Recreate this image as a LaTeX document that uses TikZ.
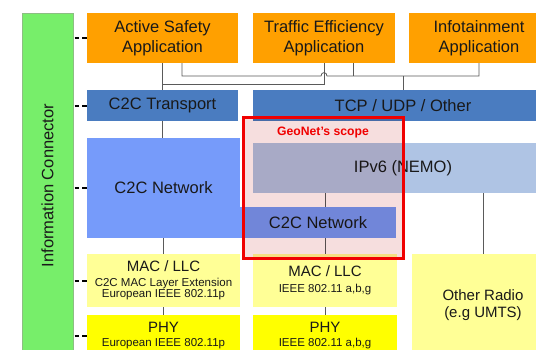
\documentclass[tikz,border=0pt]{standalone}
\usepackage{fontspec}
\setmainfont{Liberation Sans}
\usetikzlibrary{calc}
\definecolor{orangebox}{RGB}{255,160,0}
\definecolor{greenbar}{RGB}{119,238,106}
\definecolor{greenedge}{RGB}{140,190,130}
\definecolor{steel}{RGB}{74,124,192}
\definecolor{netblue}{RGB}{118,155,250}
\definecolor{ipblue}{RGB}{175,196,228}
\definecolor{lightyel}{RGB}{255,255,150}
\definecolor{brightyel}{RGB}{255,255,0}
\definecolor{scopepink}{RGB}{246,222,222}
\definecolor{scopered}{RGB}{240,0,0}
\definecolor{linegray}{RGB}{90,90,90}
\definecolor{txt}{RGB}{25,25,25}
\begin{document}
\begin{tikzpicture}[x=1pt,y=-1pt,
  box/.style={rectangle, inner sep=0pt, outer sep=0pt, align=center, text=txt, font=\fontsize{16.5}{20}\selectfont},
  subfont/.style={font=\fontsize{11.5}{11}\selectfont},
  conn/.style={draw=linegray, line width=0.8pt},
  dashconn/.style={draw=black, line width=2pt, dash pattern=on 4.5pt off 3pt},
]
\useasboundingbox (0,0) rectangle (536,349);
\clip (0,0) rectangle (536,349);
\fill[white] (0,0) rectangle (536,349);

% information connector
\node[box, rotate=90, fill=greenbar, draw=greenedge, line width=0.6pt, minimum width=345pt, minimum height=51pt] (ic) at (47.5,185.5) {Information Connector};

% application layer
\node[box, fill=orangebox, minimum width=151pt, minimum height=50pt] (as) at (162.5,38) {Active Safety\\Application};
\node[box, fill=orangebox, minimum width=142pt, minimum height=50pt] (te) at (324,38) {Traffic Efficiency\\Application};
\node[box, fill=orangebox, minimum width=140pt, minimum height=50pt] (info) at (479,38) {Infotainment\\Application};

% transport
\node[box, fill=steel, minimum width=151pt, minimum height=31pt] (ct) at (162.5,105.5) {C2C Transport};
\node[box, fill=steel, minimum width=300pt, minimum height=31pt] (tcp) at (403,105.5) {TCP / UDP / Other};

% network
\node[box, fill=netblue, minimum width=153pt, minimum height=100pt] (cn) at (163.5,188) {C2C Network};
\node[box, fill=ipblue, minimum width=300pt, minimum height=50pt] (ipv6) at (403,168) {IPv6 (NEMO)};
\node[box, fill=netblue, minimum width=156pt, minimum height=31pt] (cn2) at (318,222.5) {C2C Network};

% lower layers
\node[box, subfont, fill=lightyel, minimum width=153pt, minimum height=53pt] (mac1) at (163.5,280.5)
  {{\fontsize{15}{15}\selectfont MAC / LLC}\\[3.6pt]C2C MAC Layer Extension\\European IEEE 802.11p};
\node[box, subfont, fill=brightyel, minimum width=153pt, minimum height=41pt] (phy1) at (163.5,335.5)
  {{\fontsize{15}{15}\selectfont PHY}\\[2.6pt]European IEEE 802.11p};
\node[box, subfont, fill=lightyel, minimum width=144pt, minimum height=53pt] (mac2) at (325,280.5)
  {{\fontsize{15}{15}\selectfont MAC / LLC}\\[4.6pt]IEEE 802.11 a,b,g};
\node[box, subfont, fill=brightyel, minimum width=144pt, minimum height=41pt] (phy2) at (325,335.5)
  {{\fontsize{15}{15}\selectfont PHY}\\[2.6pt]IEEE 802.11 a,b,g};
\node[box, fill=lightyel, minimum width=142pt, minimum height=102pt, font=\fontsize{15}{16.5}\selectfont] (other) at (483,305)
  {Other Radio\\(e.g UMTS)};

% connectors
\coordinate (busy) at (0,76);
\draw[conn] (as.south) -- (ct.north);
\draw[conn] (te.south) -- ++(0,21) -| (ct.north);
\draw[conn] ([xshift=19.5pt]as.south) |- ($(te.south)+(-3,13)$)
   .. controls +(0,-4.5) and +(0,-4.5) .. ($(te.south)+(3,13)$) -| (info.south);
\draw[conn] ($(te.south)+(29,0)$) -- ++(0,13);
\draw[conn] (tcp.north |- busy) -- (tcp.north);
\draw[conn] (ct.south) -- (ct.south |- cn.north);
\draw[conn] (cn.south) -- (mac1.north);
\draw[conn] (mac1.south) -- (phy1.north);
\draw[conn] (mac2.north |- ipv6.south) -- (mac2.north |- cn2.north);
\draw[conn] (mac2.north |- cn2.south) -- (mac2.north);
\draw[conn] (mac2.south) -- (phy2.north);
\draw[conn] (other.north |- ipv6.south) -- (other.north);

\foreach \n in {as,ct,cn,mac1,phy1}
  \draw[dashconn] ($(ic.south |- \n.west)+(1.5,0)$) -- ($(\n.west)+(-0.5,0)$);

% GeoNet scope
\node[rectangle, inner sep=0pt, outer sep=0pt, fill=scopepink, blend mode=multiply, minimum width=160pt, minimum height=140.5pt] (scope) at (323.5,187.75) {};
\node[text=scopered, font=\bfseries\fontsize{12.2}{14}\selectfont, inner sep=0pt] (geo) at (323,133) {GeoNet's scope};
\draw[scopered, line width=3pt] (scope.north west) rectangle (scope.south east);
\end{tikzpicture}
\end{document}
